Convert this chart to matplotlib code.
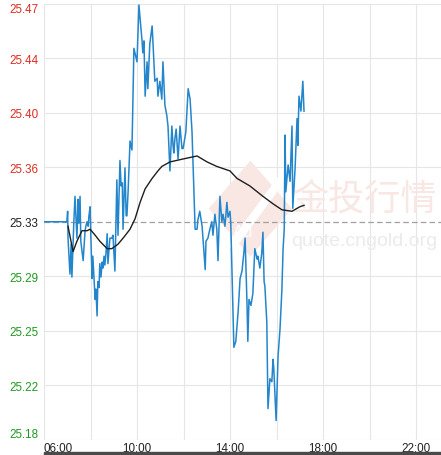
"""Silver intraday price chart (cngold style)."""
import matplotlib
matplotlib.use("Agg")
import matplotlib.pyplot as plt
from matplotlib.patches import Polygon, Rectangle

# ---- data ----
times = ["06:00", "06:59", "07:01", "07:02", "07:07", "07:10", "07:12", "07:17",
         "07:20", "07:25", "07:28", "07:30", "07:33", "07:35", "07:41", "07:46",
         "07:48", "07:51", "07:54", "07:56", "07:59", "08:01", "08:04", "08:06",
         "08:09", "08:12", "08:14", "08:17", "08:19", "08:22", "08:24", "08:27",
         "08:30", "08:32", "08:35", "08:37", "08:40", "08:43", "08:45", "08:50",
         "08:55", "08:58", "09:03", "09:08", "09:11", "09:16", "09:19", "09:22",
         "09:24", "09:29", "09:32", "09:34", "09:37", "09:42", "09:47", "09:52",
         "10:00", "10:05", "10:13", "10:15", "10:18", "10:21", "10:26", "10:28",
         "10:33", "10:39", "10:41", "10:46", "10:52", "10:54", "10:59", "11:04",
         "11:07", "11:12", "11:17", "11:20", "11:25", "11:30", "11:33", "11:35",
         "11:38", "11:41", "11:46", "11:51", "11:56", "11:59", "12:06", "12:12",
         "12:17", "12:22", "12:30", "12:35", "12:37", "12:42", "12:48", "12:56",
         "12:58", "13:03", "13:08", "13:13", "13:16", "13:21", "13:26", "13:29",
         "13:34", "13:39", "13:42", "13:47", "13:52", "13:55", "14:00", "14:02",
         "14:05", "14:08", "14:10", "14:15", "14:21", "14:26", "14:31", "14:36",
         "14:39", "14:41", "14:44", "14:46", "14:49", "14:54", "14:59", "15:04",
         "15:10", "15:12", "15:17", "15:22", "15:25", "15:28", "15:30", "15:35",
         "15:38", "15:43", "15:48", "15:51", "15:53", "15:59", "16:04", "16:09",
         "16:14", "16:17", "16:20", "16:22", "16:24", "16:30", "16:35", "16:40",
         "16:42", "16:48", "16:53", "16:55", "16:58", "17:03", "17:08", "17:11"]
prices = [25.330, 25.330, 25.337, 25.319, 25.295, 25.315, 25.293, 25.330,
          25.347, 25.319, 25.345, 25.329, 25.347, 25.317, 25.304, 25.324,
          25.327, 25.330, 25.327, 25.334, 25.340, 25.319, 25.292, 25.307,
          25.292, 25.278, 25.285, 25.267, 25.290, 25.286, 25.302, 25.293,
          25.303, 25.299, 25.307, 25.301, 25.309, 25.322, 25.302, 25.319,
          25.319, 25.321, 25.297, 25.358, 25.321, 25.371, 25.354, 25.356,
          25.325, 25.366, 25.334, 25.334, 25.350, 25.384, 25.378, 25.446,
          25.437, 25.475, 25.451, 25.443, 25.451, 25.414, 25.437, 25.419,
          25.449, 25.461, 25.451, 25.424, 25.426, 25.414, 25.424, 25.412,
          25.437, 25.408, 25.401, 25.394, 25.364, 25.394, 25.381, 25.376,
          25.386, 25.392, 25.372, 25.394, 25.379, 25.379, 25.390, 25.419,
          25.412, 25.390, 25.325, 25.325, 25.331, 25.337, 25.327, 25.298,
          25.317, 25.319, 25.325, 25.330, 25.321, 25.335, 25.325, 25.304,
          25.347, 25.330, 25.335, 25.327, 25.343, 25.333, 25.337, 25.329,
          25.297, 25.267, 25.246, 25.250, 25.270, 25.292, 25.297, 25.310,
          25.319, 25.301, 25.274, 25.250, 25.278, 25.274, 25.282, 25.312,
          25.305, 25.307, 25.299, 25.309, 25.323, 25.290, 25.287, 25.263,
          25.205, 25.225, 25.223, 25.238, 25.232, 25.197, 25.240, 25.258,
          25.285, 25.312, 25.325, 25.388, 25.350, 25.368, 25.357, 25.394,
          25.339, 25.366, 25.399, 25.381, 25.414, 25.404, 25.424, 25.404]

avg_times = ["07:02", "07:15", "07:25", "07:38", "07:51", "07:59", "08:12", "08:24",
             "08:43", "08:55", "09:11", "09:24", "09:42", "09:55", "10:08", "10:21",
             "10:39", "10:54", "11:04", "11:25", "11:59", "12:35", "13:01", "13:26",
             "14:00", "14:18", "14:51", "15:25", "15:51", "16:14", "16:40", "17:00",
             "17:11"]
avg_prices = [25.327, 25.310, 25.317, 25.324, 25.324, 25.325, 25.321, 25.317,
              25.312, 25.312, 25.315, 25.319, 25.325, 25.332, 25.343, 25.352,
              25.359, 25.364, 25.367, 25.370, 25.372, 25.374, 25.370, 25.367,
              25.364, 25.359, 25.354, 25.347, 25.342, 25.338, 25.337, 25.340,
              25.341]

prev_close = 25.33
y_tick_values = [25.184, 25.2205, 25.257, 25.2935, 25.33, 25.3665, 25.403, 25.4395, 25.476]
y_tick_labels = ["25.18", "25.22", "25.25", "25.29", "25.33", "25.36", "25.40", "25.44", "25.47"]
x_label_hours = [6, 10, 14, 18, 22]
x_tick_labels = ["06:00", "10:00", "14:00", "18:00", "22:00"]
x_grid_hours = [6, 8, 10, 12, 14, 16, 18, 20, 22]


def to_hours(t):
    h, m = t.split(":")
    return int(h) + int(m) / 60


plt.rcParams["font.family"] = ["Liberation Sans", "DejaVu Sans"]

fig = plt.figure(figsize=(4.41, 4.56), dpi=100)
fig.patch.set_facecolor("white")
ax = fig.add_axes([44 / 441, 15 / 456, 397 / 441, 436.5 / 456])
ax.set_facecolor("white")
for s in ax.spines.values():
    s.set_visible(False)

# grid
for h in x_grid_hours:
    ax.axvline(h, color="#e6e6e6", lw=0.8, zorder=0.5)
for v in y_tick_values:
    if v != prev_close:
        ax.axhline(v, color="#e6e6e6", lw=0.8, zorder=0.5)
ax.axhline(prev_close, color="#a0a0a0", lw=0.9, linestyle=(0, (4.5, 2.5)), zorder=1.5)

# watermark
wm = "#f9e7e4"
diamond = Polygon([(0.520, 0.64), (0.625, 0.53), (0.520, 0.42), (0.415, 0.53)],
                  closed=True, transform=ax.transAxes, facecolor=wm,
                  edgecolor="none", zorder=0.6)
ax.add_patch(diamond)
ax.plot([0.47, 0.60], [0.44, 0.60], transform=ax.transAxes, color="white",
        lw=6, solid_capstyle="butt", zorder=0.65)
ax.text(0.502, 0.478, "Au", transform=ax.transAxes, ha="center", va="center",
        fontsize=12, color="white", zorder=0.7)
ax.text(0.81, 0.55, "金投行情", transform=ax.transAxes, ha="center", va="center",
        fontsize=26, color=wm, family=["Noto Sans CJK SC", "DejaVu Sans"], zorder=0.6)
ax.text(0.806, 0.456, "quote.cngold.org", transform=ax.transAxes, ha="center",
        va="center", fontsize=14, color="#ebebeb", zorder=0.6)

# price lines
ax.plot([to_hours(t) for t in times], prices, color="#2386cc", lw=1.1, zorder=3)
ax.plot([to_hours(t) for t in avg_times], avg_prices, color="#1e1e1e", lw=1.0, zorder=4)

ax.set_xlim(6, 6 + 397 / 23.25)
ax.set_ylim(y_tick_values[0], y_tick_values[-1])

# y tick labels
ax.set_yticks(y_tick_values)
ax.set_yticklabels(y_tick_labels)
ax.tick_params(axis="y", length=0, pad=4, labelsize=8.4)
for lab, v in zip(ax.get_yticklabels(), y_tick_values):
    if v > prev_close:
        lab.set_color("#e02c20")
    elif v < prev_close:
        lab.set_color("#1f9a1f")
    else:
        lab.set_color("#222222")
ylabs = ax.get_yticklabels()
ylabs[-1].set_va("top")
ylabs[0].set_va("bottom")

# x tick labels
ax.set_xticks(x_label_hours)
ax.set_xticklabels(x_tick_labels)
ax.tick_params(axis="x", length=0, pad=1.5, labelsize=8.4, labelcolor="#222222")
ax.get_xticklabels()[0].set_ha("left")

# scrollbar strip at the bottom
fig.patches.append(Rectangle((44 / 441, 0), 397 / 441, 3 / 456,
                             transform=fig.transFigure, color="#4a4a4a"))

fig.savefig("out.png", dpi=100, facecolor="white")
